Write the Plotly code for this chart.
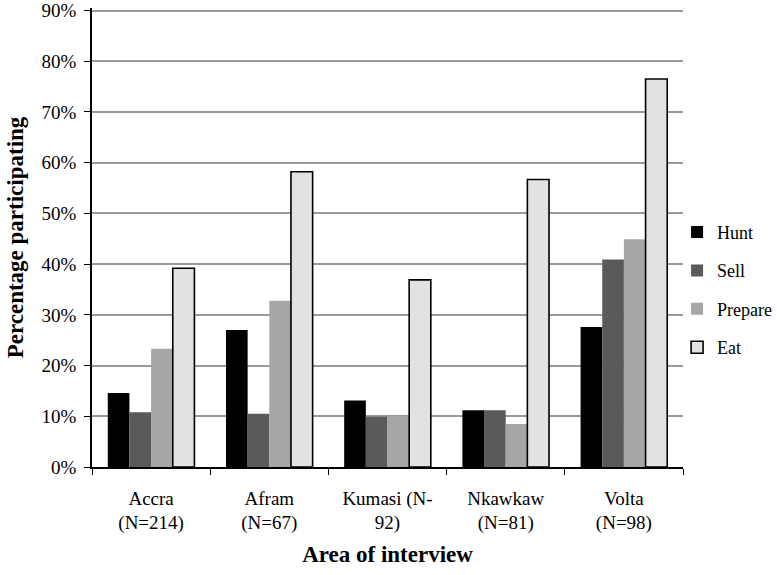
import plotly.graph_objects as go

areas = ["Accra<br>(N=214)", "Afram<br>(N=67)", "Kumasi (N-<br>92)", "Nkawkaw<br>(N=81)", "Volta<br>(N=98)"]
hunt = [0.146, 0.270, 0.131, 0.112, 0.276]
sell = [0.108, 0.105, 0.099, 0.112, 0.409]
prepare = [0.233, 0.328, 0.100, 0.085, 0.449]
eat = [0.392, 0.582, 0.369, 0.567, 0.765]
y_ticks = [0, 0.1, 0.2, 0.3, 0.4, 0.5, 0.6, 0.7, 0.8, 0.9]

series = [("Hunt", hunt, "#000000"), ("Sell", sell, "#5a5a5a"),
          ("Prepare", prepare, "#a6a6a6"), ("Eat", eat, "#e2e2e2")]

font = "Liberation Serif, serif"

fig = go.Figure()
for name, vals, col in series:
    lw = 1.6 if name == "Eat" else 0
    fig.add_trace(go.Bar(x=areas, y=vals, name=name, legendgroup=name,
                         marker=dict(color=col, line=dict(color="#000000", width=lw))))

fig.update_layout(
    width=777, height=575,
    margin=dict(l=92, r=94, t=7.5, b=108.3, autoexpand=False),
    paper_bgcolor="white", plot_bgcolor="white",
    barmode="group", bargap=0.267, bargroupgap=0,
    font=dict(family=font, size=19, color="#000000"),
    legend=dict(x=0.99, y=0.386, xanchor="left", yanchor="middle",
                font=dict(family=font, size=18, color="#000000"), tracegroupgap=12,
                bgcolor="rgba(0,0,0,0)"),
    showlegend=True,
)
fig.update_yaxes(range=[0, 0.905], tickvals=y_ticks, tickformat=".0%",
                 tickfont=dict(family=font, size=19, color="#000000"),
                 showgrid=True, gridcolor="#9a9a9a", gridwidth=1.5,
                 showline=True, linecolor="#000000", linewidth=1.5,
                 ticks="outside", ticklen=6, tickcolor="#000000",
                 zeroline=False, automargin=False, ticklabelstandoff=4,
                 title=dict(text="<b>Percentage participating</b>",
                            font=dict(family=font, size=23), standoff=12))
fig.update_xaxes(showline=True, linecolor="#000000", linewidth=1.5,
                 tickfont=dict(family=font, size=19, color="#000000"),
                 ticks="outside", ticklen=6, tickcolor="#000000",
                 tickson="boundaries", automargin=False, ticklabelstandoff=13,
                 title=dict(text="<b>Area of interview</b>",
                            font=dict(family=font, size=23), standoff=13))

fig.write_html("out.html", config={"displayModeBar": False},
               post_script="document.body.style.margin = '0';")
